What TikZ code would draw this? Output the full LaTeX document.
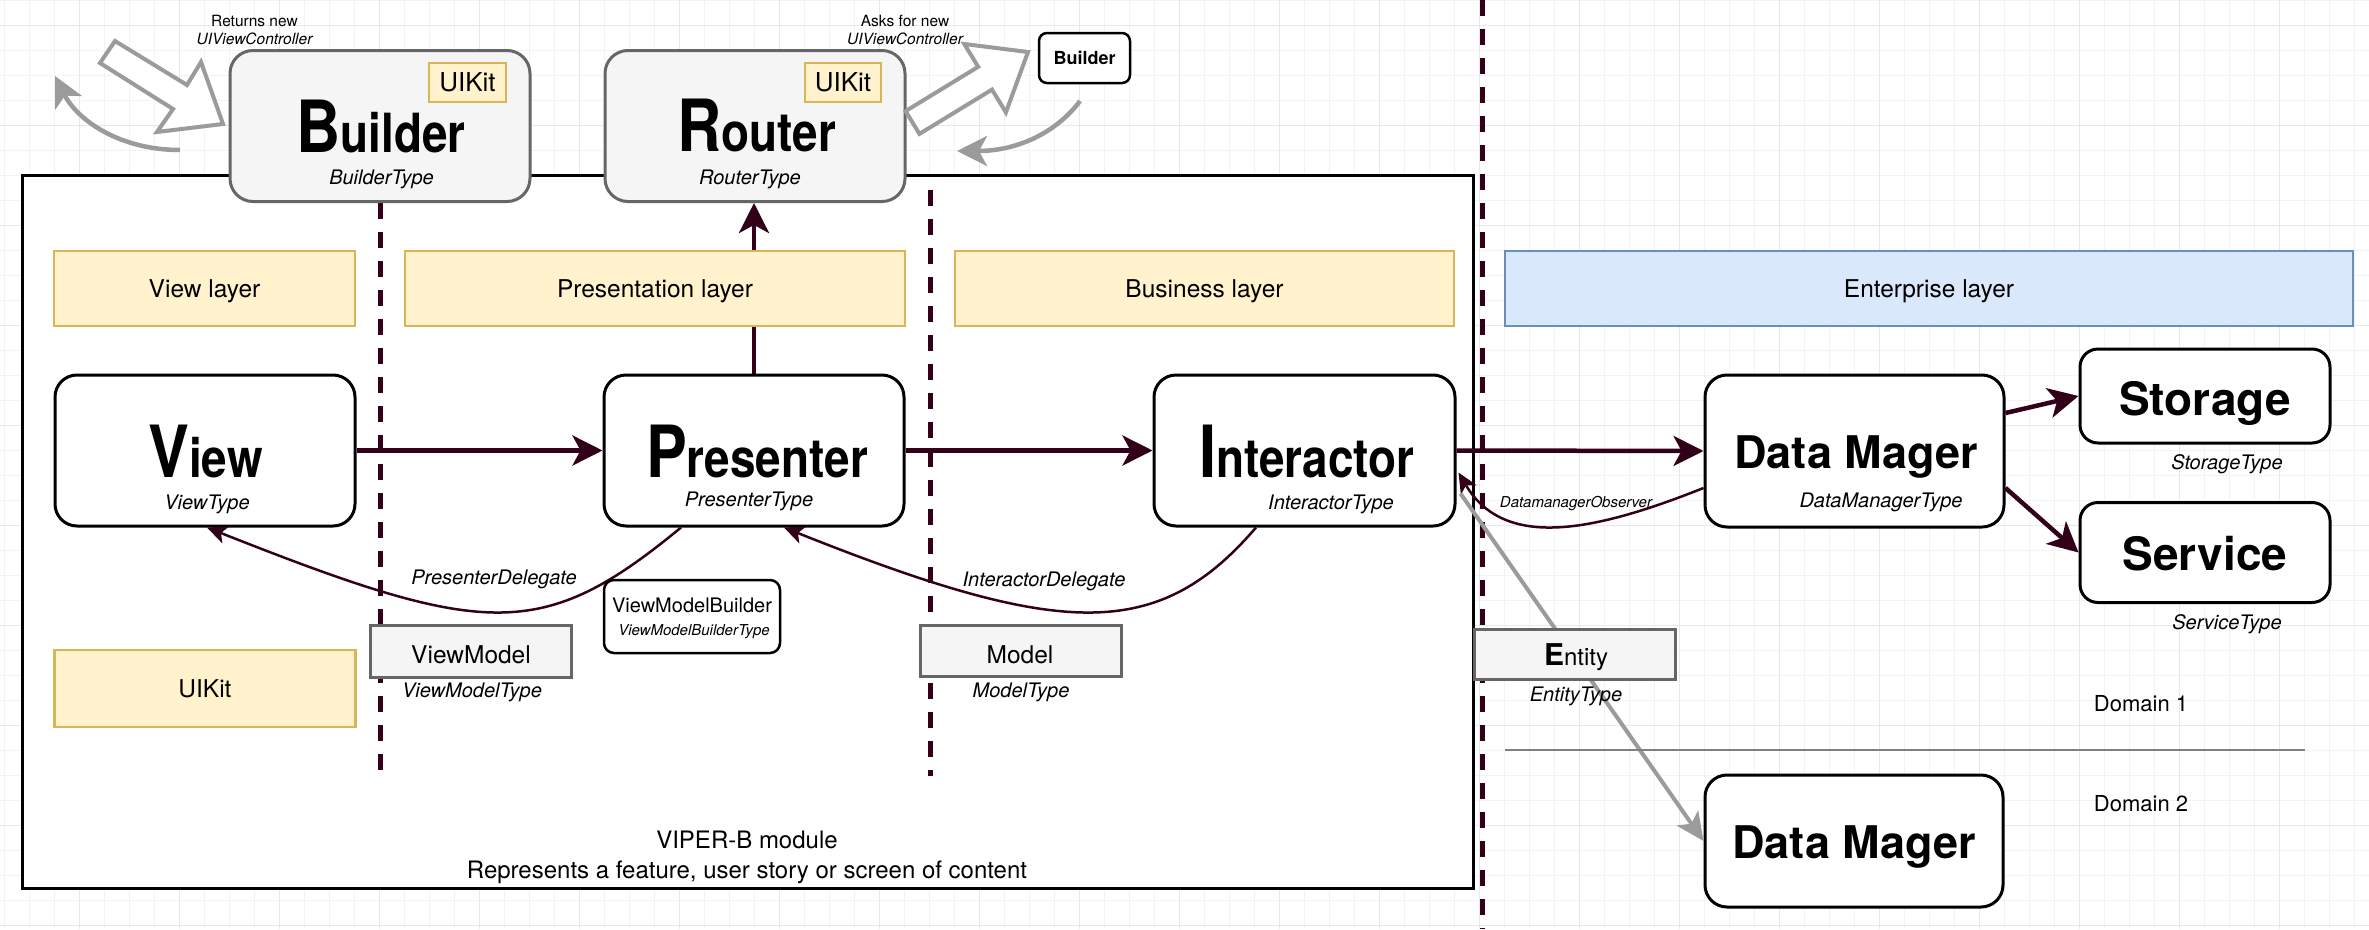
\documentclass[tikz,border=0pt]{standalone}
\usepackage{fontspec}
\setmainfont{TeX Gyre Heros}
\newfontfamily\condfont[FakeStretch=0.85]{TeX Gyre Heros}
\usetikzlibrary{arrows.meta}
\newcommand{\myfs}[1]{\fontsize{#1}{#1}\selectfont}
\definecolor{vmaroon}{HTML}{33001A}
\definecolor{ylfill}{HTML}{FFF2CC}
\definecolor{ylline}{HTML}{D6B656}
\definecolor{blfill}{HTML}{DAE8FC}
\definecolor{blline}{HTML}{6C8EBF}
\definecolor{gyfill}{HTML}{F5F5F5}
\definecolor{gyline}{HTML}{666666}
\definecolor{arrgray}{HTML}{9B9B9B}
\definecolor{gridminc}{HTML}{F3F3F3}
\definecolor{gridmajc}{HTML}{E8E8E8}
\definecolor{domline}{HTML}{808080}
\pgfdeclarelayer{bottomlayer}
\pgfdeclarelayer{behindlayer}
\pgfsetlayers{bottomlayer,behindlayer,main}
\begin{document}
\begin{tikzpicture}[x=1pt,y=-1pt,
  gridmin/.style={draw=gridminc, line width=1pt},
  gridmaj/.style={draw=gridmajc, line width=1pt},
  modrect/.style={draw=black, line width=3pt, fill=white, inner sep=0pt},
  dashline/.style={draw=vmaroon, line width=5pt, dash pattern=on 16pt off 13pt},
  layerbox/.style={draw=ylline, fill=ylfill, line width=2.5pt, inner sep=0pt, font=\myfs{24.5}, text height=17.6pt, text depth=0pt},
  entbox/.style={layerbox, draw=blline, fill=blfill},
  graybox/.style={draw=gyline, fill=gyfill, line width=3pt, inner sep=0pt},
  uibox/.style={draw=ylline, fill=ylfill, line width=2.5pt, inner sep=0pt, font=\myfs{26}, text height=18.7pt, text depth=0pt},
  roundgray/.style={draw=gyline, fill=gyfill, line width=3pt, rounded corners=23pt, inner sep=0pt},
  vbox/.style={draw=black, fill=white, line width=3pt, rounded corners=22pt, inner sep=0pt},
  sbox/.style={draw=black, fill=white, line width=3pt, rounded corners=18pt, inner sep=0pt},
  vmbbox/.style={draw=black, fill=white, line width=2.5pt, rounded corners=10pt, inner sep=0pt},
  smallb/.style={draw=black, fill=white, line width=2.5pt, rounded corners=8pt, inner sep=0pt, font=\bfseries\myfs{18}, text height=12.9pt, text depth=0pt},
  bigtitle/.style={font=\condfont\bfseries, inner sep=0pt, anchor=base},
  dmtitle/.style={font=\bfseries\myfs{45}, inner sep=0pt, anchor=base},
  sstitle/.style={font=\bfseries\myfs{46}, inner sep=0pt, anchor=base},
  typelbl/.style={font=\itshape\myfs{20}, inner sep=0pt, anchor=base},
  plainlbl/.style={inner sep=0pt, anchor=base},
  thickarr/.style={draw=vmaroon, line width=4.5pt, -{Stealth[length=30pt,width=30pt,inset=8pt]}},
  thinarr/.style={draw=vmaroon, line width=2.5pt, -{Stealth[length=20pt,width=18pt,inset=5pt]}},
  grayarr/.style={draw=arrgray, line width=4.5pt, -{Stealth[length=30pt,width=30pt,inset=8pt]}},
  blockarr/.style={draw=arrgray, fill=white, line width=4pt, line join=miter}
]
\useasboundingbox (0,0) rectangle (2369,929);
\begin{pgfonlayer}{bottomlayer}
\fill[white] (0,0) rectangle (2369,929);
% grid
\foreach \gx in {4.3,29.3,...,2369} \draw[gridmin] (\gx,0) -- (\gx,929);
\foreach \gy in {0,25,...,929} \draw[gridmin] (0,\gy) -- (2369,\gy);
\foreach \gx in {79.3,179.3,...,2369} \draw[gridmaj] (\gx,0) -- (\gx,929);
\foreach \gy in {25,125,...,929} \draw[gridmaj] (0,\gy) -- (2369,\gy);
% module frame
\node[modrect, minimum width=1451pt, minimum height=713pt] (module) at (747.5,531.5) {};
\end{pgfonlayer}

% dashed separators
\coordinate (dA1) at (380,203); \coordinate (dA2) at (380,776);
\coordinate (dB1) at (930,190); \coordinate (dB2) at (930,776);
\coordinate (dC1) at (1482,0); \coordinate (dC2) at (1482,929);
\draw[dashline] (dA1) -- (dA2);
\draw[dashline] (dB1) -- (dB2);
\draw[dashline] (dC1) -- (dC2);

% layers
\node[layerbox, minimum width=301pt, minimum height=75pt] (viewlayer) at (204.5,288.5) {View layer};
\node[layerbox, minimum width=500pt, minimum height=75pt] (preslayer) at (655,288.5) {Presentation layer};
\node[layerbox, minimum width=499pt, minimum height=75pt] (buslayer) at (1204.5,288.5) {Business layer};
\node[entbox, minimum width=848pt, minimum height=75pt] (entlayer) at (1929,288.5) {Enterprise layer};
\node[layerbox, minimum width=301pt, minimum height=77pt] (uikitbig) at (205,688.5) {UIKit};

% Builder and Router
\node[roundgray, minimum width=300pt, minimum height=151pt] (Builder) at (380,126) {};
\node[uibox, minimum width=77pt, minimum height=39pt] (uikitB) at (467.5,82.5) {UIKit};
\node[bigtitle] (BuilderT) at (381,152.7) {{\myfs{72}B}{\myfs{54}uilder}};
\node[typelbl] (BuilderTy) at (381.5,184.4) {BuilderType};

\node[roundgray, minimum width=300pt, minimum height=151pt] (Router) at (755,126) {};
\node[uibox, minimum width=76pt, minimum height=39pt] (uikitR) at (843,82.5) {UIKit};
\node[bigtitle] (RouterT) at (756.6,151.7) {{\myfs{72}R}{\myfs{54}outer}};
\node[typelbl] (RouterTy) at (750,184.4) {RouterType};

% main VIPER nodes
\node[vbox, minimum width=300pt, minimum height=151pt] (View) at (205,450.5) {};
\node[bigtitle] (ViewT) at (205.5,477) {{\myfs{72}V}{\myfs{54}iew}};
\node[typelbl] (ViewTy) at (207,509) {ViewType};

\node[vbox, minimum width=300pt, minimum height=151pt] (Presenter) at (754,450.5) {};
\node[bigtitle] (PresenterT) at (757,477) {{\myfs{72}P}{\myfs{54}resenter}};
\node[typelbl] (PresenterTy) at (749,506.4) {PresenterType};

\node[vbox, minimum width=301pt, minimum height=151pt] (Interactor) at (1304.5,450.5) {};
\node[bigtitle] (InteractorT) at (1307,477) {{\myfs{72}I}{\myfs{54}nteractor}};
\node[typelbl] (InteractorTy) at (1331,509) {InteractorType};

\node[vbox, minimum width=299pt, minimum height=152pt] (DM) at (1854.5,451) {};
\node[dmtitle] (DMT) at (1856,468) {Data Mager};
\node[typelbl] (DMTy) at (1881,507.5) {DataManagerType};

\node[sbox, minimum width=250pt, minimum height=94pt] (Storage) at (2205,396) {};
\node[sstitle] (StorageT) at (2205,415) {Storage};
\node[typelbl] (StorageTy) at (2227,469.4) {StorageType};

\node[sbox, minimum width=250pt, minimum height=100pt] (Service) at (2205,552.5) {};
\node[sstitle] (ServiceT) at (2205,570) {Service};
\node[typelbl] (ServiceTy) at (2227,629) {ServiceType};

\node[vbox, minimum width=298pt, minimum height=132pt] (DM2) at (1854,841) {};
\node[dmtitle] (DM2T) at (1854,858) {Data Mager};

% thick arrows
\draw[thickarr] (View.east) -- (Presenter.west);
\draw[thickarr] (Presenter.east) -- (Interactor.west);
\draw[thickarr] (Interactor.east) -- (DM.west);
\begin{pgfonlayer}{behindlayer}
\draw[thickarr] (Presenter.north) -- (Presenter.north |- Router.south);
\end{pgfonlayer}
\draw[thickarr] ([yshift=38pt]DM.east) -- (Storage.west);
\draw[thickarr] ([yshift=-37pt]DM.east) -- (Service.west);

% delegate curves
\draw[thinarr] ([xshift=-73pt]Presenter.south) .. controls (542,642) and (486,638) .. ([xshift=2pt]View.south);
\draw[thinarr] ([xshift=-48.5pt]Interactor.south) .. controls (1158.5,641) and (1063,639) .. ([xshift=30pt]Presenter.south);
\draw[thinarr] ([yshift=-37pt]DM.west) .. controls (1593,532) and (1504,550) .. ([shift={(2pt,-22pt)}]Interactor.east);
\node[typelbl] (pdel) at (494,584.4) {PresenterDelegate};
\node[typelbl] (idel) at (1044,586.4) {InteractorDelegate};
\node[typelbl, font=\itshape\myfs{15}] (dmobs) at (1576,507.8) {DatamanagerObserver};

% entity line
\draw[grayarr, line width=4pt, -{Stealth[length=28pt,width=26pt,inset=7pt]}] ([shift={(4pt,-43pt)}]Interactor.east) -- (DM2.west);

% small boxes
\node[vmbbox, minimum width=176pt, minimum height=73pt] (VMB) at (692,616.5) {};
\node[plainlbl, font=\myfs{20}] (VMBT) at (692,612.4) {ViewModelBuilder};
\node[plainlbl, font=\itshape\myfs{15}] (VMBTy) at (694,635.8) {ViewModelBuilderType};

\node[graybox, minimum width=201pt, minimum height=52pt] (ViewModel) at (470.5,651) {};
\node[plainlbl, font=\myfs{24.5}] (ViewModelT) at (471,663.5) {ViewModel};
\node[typelbl] (ViewModelTy) at (472,697.4) {ViewModelType};

\node[graybox, minimum width=201pt, minimum height=51pt] (Model) at (1020.5,650.5) {};
\node[plainlbl, font=\myfs{24.5}] (ModelT) at (1020,663) {Model};
\node[typelbl] (ModelTy) at (1021,697) {ModelType};

\node[graybox, minimum width=201pt, minimum height=50pt] (Entity) at (1574.5,654) {};
\node[plainlbl] (EntityT) at (1576,665) {{\bfseries\myfs{30}E}{\myfs{24}ntity}};
\node[typelbl] (EntityTy) at (1576,701) {EntityType};

% top decorations
\draw[blockarr] (115,41) -- (187,85) -- (201,62) -- (223,124) -- (157,132) -- (173,109) -- (100,63) -- cycle;
\draw[blockarr] (905.6,111.1) -- (978.2,66.8) -- (964.3,44) -- (1028,52) -- (1005.9,112.4) -- (992,89.6) -- (919.4,133.9) -- cycle;
\coordinate (lcS) at (180,150); \coordinate (lcE) at (55,76);
\draw[grayarr] (lcS) .. controls (120,150) and (77.5,120.5) .. (lcE);
\node[smallb, minimum width=91pt, minimum height=50pt] (SmallBuilder) at (1084.5,58) {Builder};
\coordinate (rcS) at (1080,101); \coordinate (rcE) at (957,151);
\draw[grayarr] (rcS) .. controls (1056,133) and (1017,151) .. (rcE);
\node[plainlbl, font=\myfs{15.5}] (ret1) at (254.5,26) {Returns new};
\node[plainlbl, font=\itshape\myfs{15.5}] (ret2) at (254.5,44) {UIViewController};
\node[plainlbl, font=\myfs{15.5}] (ask1) at (905,26) {Asks for new};
\node[plainlbl, font=\itshape\myfs{15.5}] (ask2) at (905,44) {UIViewController};

% domains
\coordinate (dl1) at (1505,750); \coordinate (dl2) at (2305,750);
\draw[draw=domline, line width=2.5pt] (dl1) -- (dl2);
\node[plainlbl, font=\myfs{22}] (dom1) at (2141,711) {Domain 1};
\node[plainlbl, font=\myfs{22}] (dom2) at (2141,811) {Domain 2};

% module caption
\node[plainlbl, font=\myfs{24}] (vipert) at (747,848) {VIPER-B module};
\node[plainlbl, font=\myfs{24}] (viperd) at (747,878) {Represents a feature, user story or screen of content};
\end{tikzpicture}
\end{document}
